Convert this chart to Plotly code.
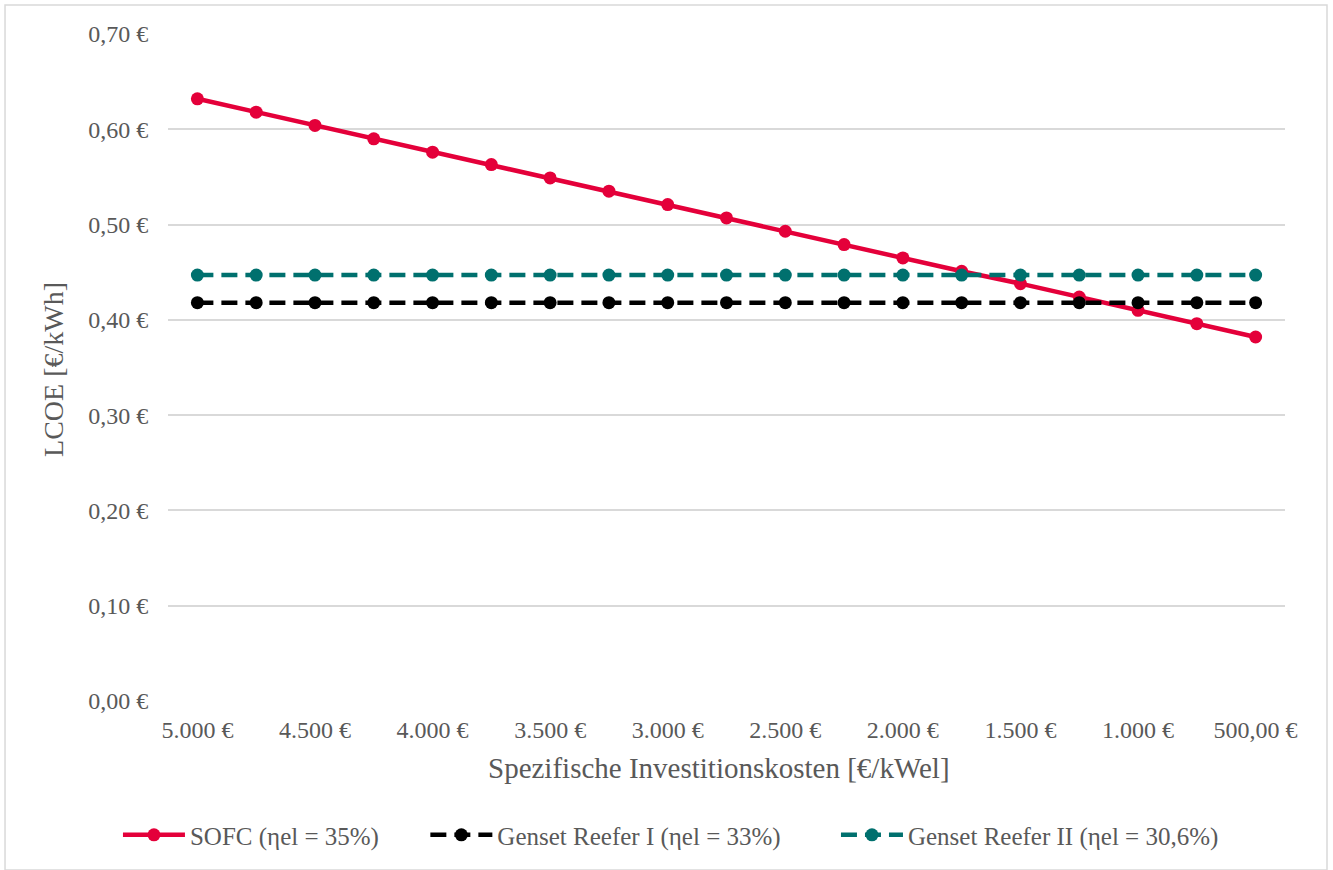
import plotly.graph_objects as go

categories = ["5000", "4750", "4500", "4250", "4000", "3750", "3500", "3250", "3000", "2750",
              "2500", "2250", "2000", "1750", "1500", "1250", "1000", "750", "500"]
sofc = [0.632, 0.618, 0.604, 0.590, 0.576, 0.563, 0.549, 0.535, 0.521, 0.507,
        0.493, 0.479, 0.465, 0.451, 0.438, 0.424, 0.410, 0.396, 0.382]
genset1 = [0.418] * 19
genset2 = [0.447] * 19
x_tickvals = ["5000", "4500", "4000", "3500", "3000", "2500", "2000", "1500", "1000", "500"]
x_ticktext = ["5.000 €", "4.500 €", "4.000 €", "3.500 €", "3.000 €", "2.500 €", "2.000 €",
              "1.500 €", "1.000 €", "500,00 €"]
y_tickvals = [0, 0.1, 0.2, 0.3, 0.4, 0.5, 0.6, 0.7]
y_ticktext = ["0,00 €", "0,10 €", "0,20 €", "0,30 €", "0,40 €", "0,50 €", "0,60 €", "0,70 €"]

FONT = "Liberation Serif"
TXT = "#595959"
DASH = "16px,8px"

fig = go.Figure()
fig.add_trace(go.Scatter(x=categories, y=sofc, mode="lines+markers", name="SOFC (ηel = 35%)",
                         line=dict(color="#E4003A", width=4.5), marker=dict(size=13, color="#E4003A"),
                         legend="legend"))
fig.add_trace(go.Scatter(x=categories, y=genset1, mode="lines+markers", name="Genset Reefer I (ηel = 33%)",
                         line=dict(color="#000000", width=4.5, dash=DASH), marker=dict(size=13, color="#000000"),
                         legend="legend2"))
fig.add_trace(go.Scatter(x=categories, y=genset2, mode="lines+markers", name="Genset Reefer II (ηel = 30,6%)",
                         line=dict(color="#00706E", width=4.5, dash=DASH), marker=dict(size=13, color="#00706E"),
                         legend="legend3"))

leg_common = dict(orientation="h", y=-0.201, yanchor="middle", xanchor="left",
                  font=dict(size=25, color=TXT, family=FONT), itemwidth=62,
                  bgcolor="rgba(0,0,0,0)")

fig.update_layout(
    width=1333, height=870,
    margin=dict(l=168, r=48, t=34, b=169),
    paper_bgcolor="white", plot_bgcolor="white",
    font=dict(family=FONT, color=TXT, size=24),
    showlegend=True,
    legend=dict(x=-0.0448, **leg_common),
    legend2=dict(x=0.2304, **leg_common),
    legend3=dict(x=0.598, **leg_common),
    xaxis=dict(type="category", tickmode="array", tickvals=x_tickvals, ticktext=x_ticktext,
               range=[-0.5, 18.5], automargin=False,
               showgrid=False, showline=False, zeroline=False,
               ticks="outside", ticklen=7, tickcolor="rgba(0,0,0,0)",
               tickfont=dict(size=24, color=TXT)),
    yaxis=dict(range=[0, 0.7], tickmode="array", tickvals=y_tickvals, ticktext=y_ticktext,
               automargin=False,
               showgrid=True, gridcolor="#D9D9D9", gridwidth=1.5, zeroline=False, showline=False,
               ticks="outside", ticklen=14, tickcolor="rgba(0,0,0,0)",
               tickfont=dict(size=24, color=TXT)),
    annotations=[
        dict(text="Spezifische Investitionskosten [€/kWel]", xref="paper", yref="paper",
             x=0.4933, y=-0.1004, xanchor="center", yanchor="middle", showarrow=False,
             font=dict(size=29, color=TXT, family=FONT)),
        dict(text="LCOE [€/kWh]", xref="paper", yref="paper", textangle=-90,
             x=-0.1021, y=0.4978, xanchor="center", yanchor="middle", showarrow=False,
             font=dict(size=28, color=TXT, family=FONT)),
    ],
)
# outer chart border
fig.add_shape(type="rect", xref="paper", yref="paper", x0=-0.1459, x1=1.0376, y0=-0.2535, y1=1.0435,
              line=dict(color="#D9D9D9", width=1.5), layer="below")

fig.write_html("out.html")
